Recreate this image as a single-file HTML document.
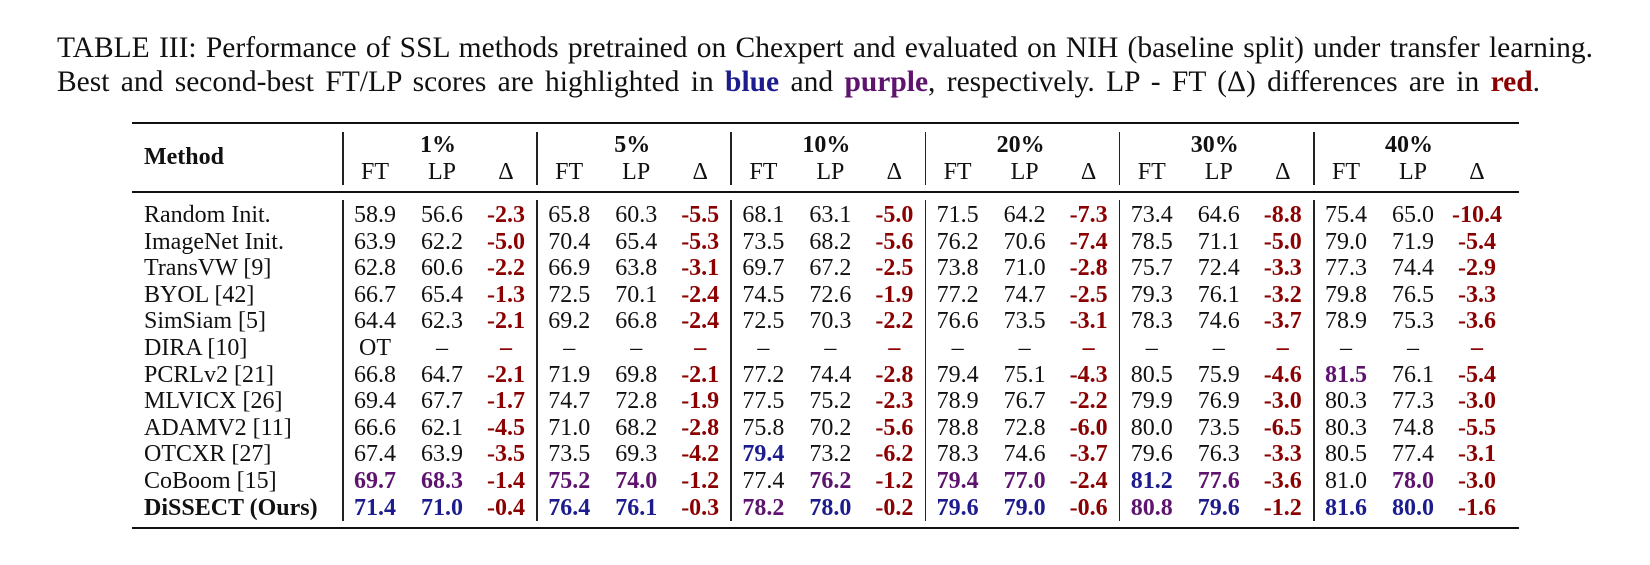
<!DOCTYPE html>
<html><head><meta charset="utf-8">
<style>
body{margin:0;width:1650px;height:565px;background:#fff;position:relative;overflow:hidden;font-family:"Liberation Serif",serif;color:#111}
.cap{position:absolute;left:57px;font-size:29.5px;white-space:nowrap;line-height:1;text-align:justify;text-align-last:justify}
.c{position:absolute;font-size:24px;line-height:1;white-space:nowrap;transform:translate(-50%,-50%)}
.l{position:absolute;font-size:24px;line-height:1;white-space:nowrap;transform:translateY(-50%)}
.rule{position:absolute;left:132px;width:1387px;background:#111}
.vl{position:absolute;width:1.5px;background:#222}
b.blue{color:#1c1c8e}b.pur{color:#5e136e}b.red{color:#8b0000}
</style></head><body>
<div class="cap" style="top:34px;width:1536px">TABLE III: Performance of SSL methods pretrained on Chexpert and evaluated on NIH (baseline split) under transfer learning.</div>
<div class="cap" style="top:68px;width:1483px">Best and second-best FT/LP scores are highlighted in <b class="blue">blue</b> and <b class="pur">purple</b>, respectively. LP - FT (Δ) differences are in <b class="red">red</b>.</div>
<div class="rule" style="top:122px;height:2.2px"></div>
<div class="rule" style="top:191px;height:1.5px"></div>
<div class="rule" style="top:527px;height:2.2px"></div>
<div id="t"></div>
<script>
const methods=["Random Init.","ImageNet Init.","TransVW [9]","BYOL [42]","SimSiam [5]","DIRA [10]","PCRLv2 [21]","MLVICX [26]","ADAMV2 [11]","OTCXR [27]","CoBoom [15]","DiSSECT (Ours)"];
const groups=["1%","5%","10%","20%","30%","40%"];
const values=[
["58.9","56.6","-2.3","65.8","60.3","-5.5","68.1","63.1","-5.0","71.5","64.2","-7.3","73.4","64.6","-8.8","75.4","65.0","-10.4"],
["63.9","62.2","-5.0","70.4","65.4","-5.3","73.5","68.2","-5.6","76.2","70.6","-7.4","78.5","71.1","-5.0","79.0","71.9","-5.4"],
["62.8","60.6","-2.2","66.9","63.8","-3.1","69.7","67.2","-2.5","73.8","71.0","-2.8","75.7","72.4","-3.3","77.3","74.4","-2.9"],
["66.7","65.4","-1.3","72.5","70.1","-2.4","74.5","72.6","-1.9","77.2","74.7","-2.5","79.3","76.1","-3.2","79.8","76.5","-3.3"],
["64.4","62.3","-2.1","69.2","66.8","-2.4","72.5","70.3","-2.2","76.6","73.5","-3.1","78.3","74.6","-3.7","78.9","75.3","-3.6"],
["OT","–","–","–","–","–","–","–","–","–","–","–","–","–","–","–","–","–"],
["66.8","64.7","-2.1","71.9","69.8","-2.1","77.2","74.4","-2.8","79.4","75.1","-4.3","80.5","75.9","-4.6","81.5","76.1","-5.4"],
["69.4","67.7","-1.7","74.7","72.8","-1.9","77.5","75.2","-2.3","78.9","76.7","-2.2","79.9","76.9","-3.0","80.3","77.3","-3.0"],
["66.6","62.1","-4.5","71.0","68.2","-2.8","75.8","70.2","-5.6","78.8","72.8","-6.0","80.0","73.5","-6.5","80.3","74.8","-5.5"],
["67.4","63.9","-3.5","73.5","69.3","-4.2","79.4","73.2","-6.2","78.3","74.6","-3.7","79.6","76.3","-3.3","80.5","77.4","-3.1"],
["69.7","68.3","-1.4","75.2","74.0","-1.2","77.4","76.2","-1.2","79.4","77.0","-2.4","81.2","77.6","-3.6","81.0","78.0","-3.0"],
["71.4","71.0","-0.4","76.4","76.1","-0.3","78.2","78.0","-0.2","79.6","79.0","-0.6","80.8","79.6","-1.2","81.6","80.0","-1.6"]];
const styles=[
"","","","","","","","","","","","","","","","","","",
"","","","","","","","","","","","","","","","","","",
"","","","","","","","","","","","","","","","","","",
"","","","","","","","","","","","","","","","","","",
"","","","","","","","","","","","","","","","","","",
"","","","","","","","","","","","","","","","","","",
"","","","","","","","","","","","","","","","p","","",
"","","","","","","","","","","","","","","","","","",
"","","","","","","","","","","","","","","","","","",
"","","","","","","b","","","","","","","","","","","",
"p","p","","p","p","","","p","","p","p","","b","p","","","p","",
"b","b","","b","b","","p","b","","b","b","","p","b","","b","b",""];
const T=document.getElementById('t');
function add(cls,x,y,html,name){const d=document.createElement('div');d.className=cls;d.style.left=x+'px';d.style.top=y+'px';d.innerHTML=html;


T.appendChild(d);return d;}
const g0=343,gw=194.2,off=[32,99,163];
add('l',144,157,'<b>Method</b>','method-header');
groups.forEach((g,i)=>{const gx=g0+i*gw;
 add('c',gx+95,145,'<b>'+g+'</b>','group-header-'+(i+1));
 ['FT','LP','Δ'].forEach((s,j)=>add('c',gx+off[j],172,s,'subheader-'+s));
 const v=document.createElement('div');v.className='vl';v.style.left=(gx-1)+'px';v.style.top='132px';v.style.height='53px';
 
 
 T.appendChild(v);
 const v2=document.createElement('div');v2.className='vl';v2.style.left=(gx-1)+'px';v2.style.top='200px';v2.style.height='321px';
 
 
 T.appendChild(v2);
});
methods.forEach((m,r)=>{const y=215+r*26.6;
 add('l',144,y,r==11?'<b>'+m+'</b>':m,'method-name');
 values[r].forEach((v,k)=>{const gi=Math.floor(k/3),j=k%3;const st=styles[r*18+k];
  let h=v; if(j==2)h='<b class="red">'+v+'</b>';else if(st=='b')h='<b class="blue">'+v+'</b>';else if(st=='p')h='<b class="pur">'+v+'</b>';
  add('c',g0+gi*gw+off[j],y,h,'cell-value');});
});
</script>
</body></html>
